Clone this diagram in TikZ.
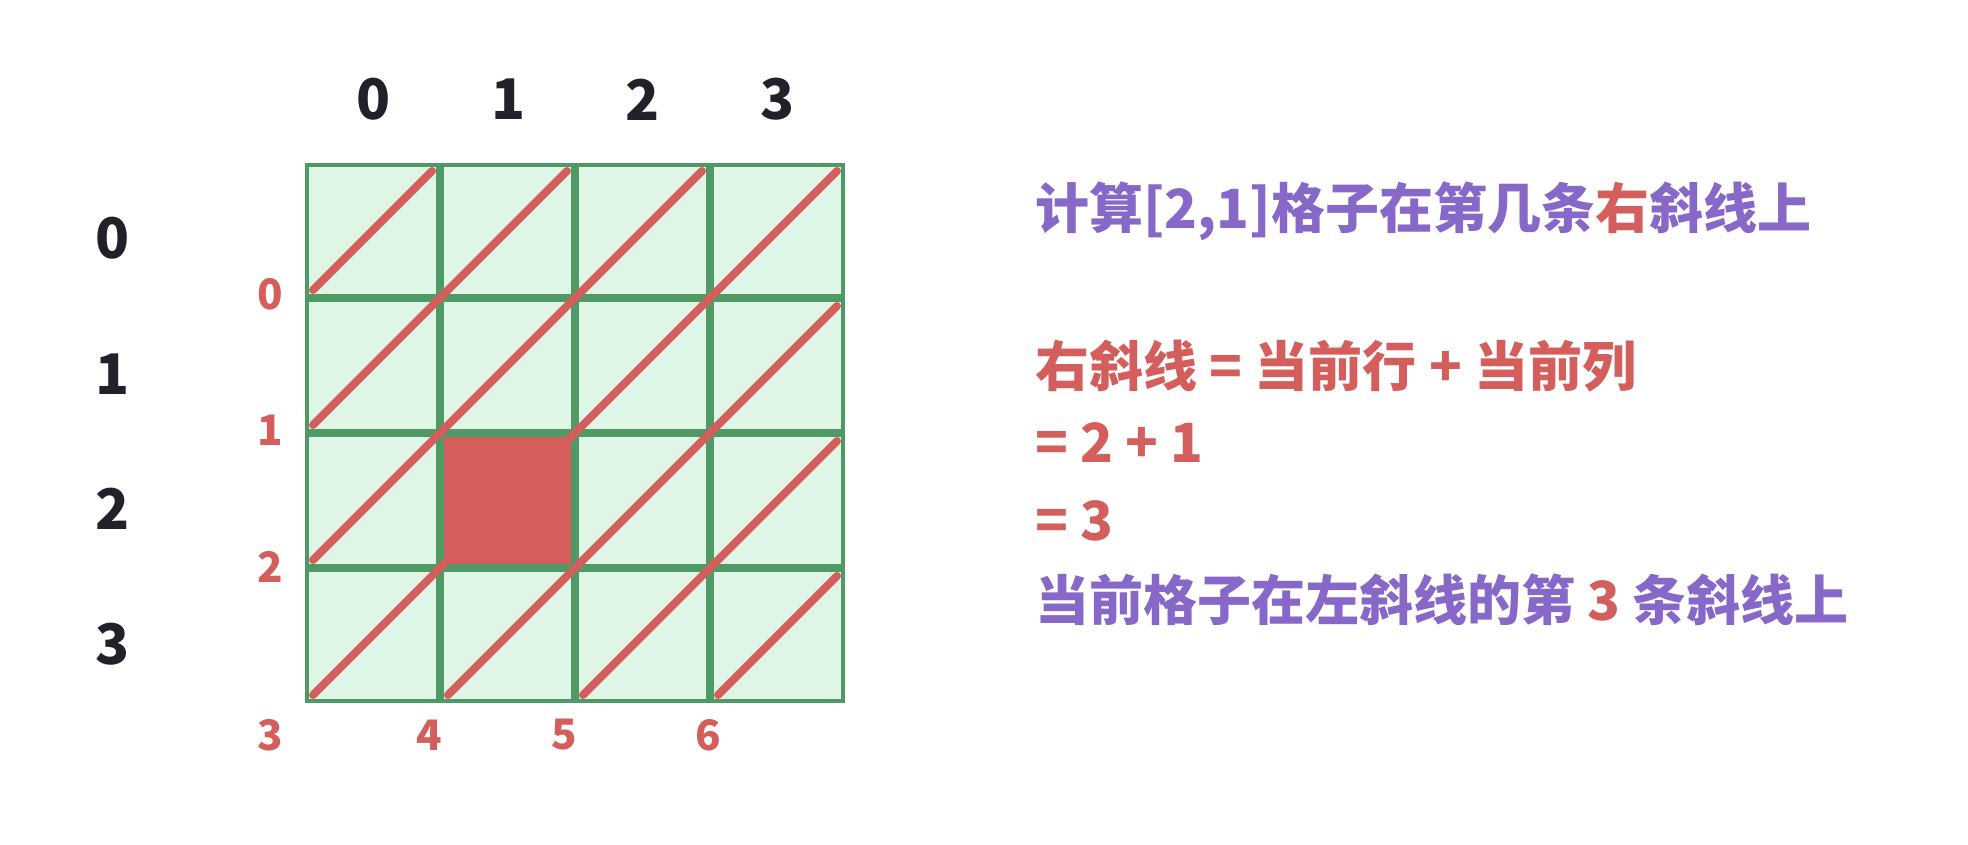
\documentclass[tikz,border=0pt]{standalone}
\usepackage{fontspec}
\setmainfont{Noto Sans CJK SC}
\definecolor{gfill}{HTML}{DFF5E5}
\definecolor{gline}{HTML}{4F9A64}
\definecolor{rline}{HTML}{D35E5B}
\definecolor{ptext}{HTML}{8767C8}
\definecolor{ktext}{HTML}{1F2329}
\tikzset{
  gridln/.style={draw=gline},
  diag/.style={draw=rline, line width=8pt, line cap=round},
  blacklbl/.style={inner sep=0pt, text=ktext, font=\fontsize{56}{60}\selectfont\bfseries},
  redlbl/.style={inner sep=0pt, text=rline, font=\fontsize{42}{46}\selectfont\bfseries},
  txt/.style={inner sep=0pt, anchor=base west, font=\fontsize{54}{60}\selectfont\bfseries}
}
\begin{document}
\begin{tikzpicture}[x=1pt,y=-1pt]
\useasboundingbox (0,0) rectangle (1968,844);
% grid
\fill[gfill] (305,163) rectangle (845,703);
\foreach \v in {440,575,710} {
  \draw[gridln, line width=8pt] (\v,163) -- (\v,703);
}
\foreach \h in {298,433,568} {
  \draw[gridln, line width=8pt] (305,\h) -- (845,\h);
}
\draw[gridln, line width=4pt] (307,165) rectangle (843,701);
% diagonals
\foreach \xa/\ya/\xb/\yb in {313/290/432/171, 313/425/567/171, 313/560/702/171,
  313/695/837/171, 448/695/837/306, 583/695/837/441, 718/695/837/576} {
  \draw[diag] (\xa,\ya) -- (\xb,\yb);
}
% highlighted cell
\fill[rline] (444,437) rectangle (571,564);
% column labels
\node[blacklbl] (c0) at (373.5,99.5) {0};
\node[blacklbl] (c1) at (509,99.5) {1};
\node[blacklbl] (c2) at (643,99.5) {2};
\node[blacklbl] (c3) at (778,99.5) {3};
% row labels
\node[blacklbl] (r0) at (113,238.5) {0};
\node[blacklbl] (r1) at (113,374) {1};
\node[blacklbl] (r2) at (113,509) {2};
\node[blacklbl] (r3) at (113,644) {3};
% diagonal labels
\node[redlbl] (d0) at (270,294) {0};
\node[redlbl] (d1) at (270,430) {1};
\node[redlbl] (d2) at (270,567) {2};
\node[redlbl] (d3) at (270,735) {3};
\node[redlbl] (d4) at (429,735) {4};
\node[redlbl] (d5) at (564,735) {5};
\node[redlbl] (d6) at (708,735) {6};
% text
\node[txt] (t1) at (1035,228) {\textcolor{ptext}{计算[2,1]格子在第几条}\textcolor{rline}{右}\textcolor{ptext}{斜线上}};
\node[txt, text=rline] (t2) at (1035,386) {右斜线 = 当前行 + 当前列};
\node[txt, text=rline] (t3) at (1035,462) {= 2 + 1};
\node[txt, text=rline] (t4) at (1035,540) {= 3};
\node[txt] (t5) at (1035,620) {\textcolor{ptext}{当前格子在左斜线的第} \textcolor{rline}{3} \textcolor{ptext}{条斜线上}};
\end{tikzpicture}
\end{document}
